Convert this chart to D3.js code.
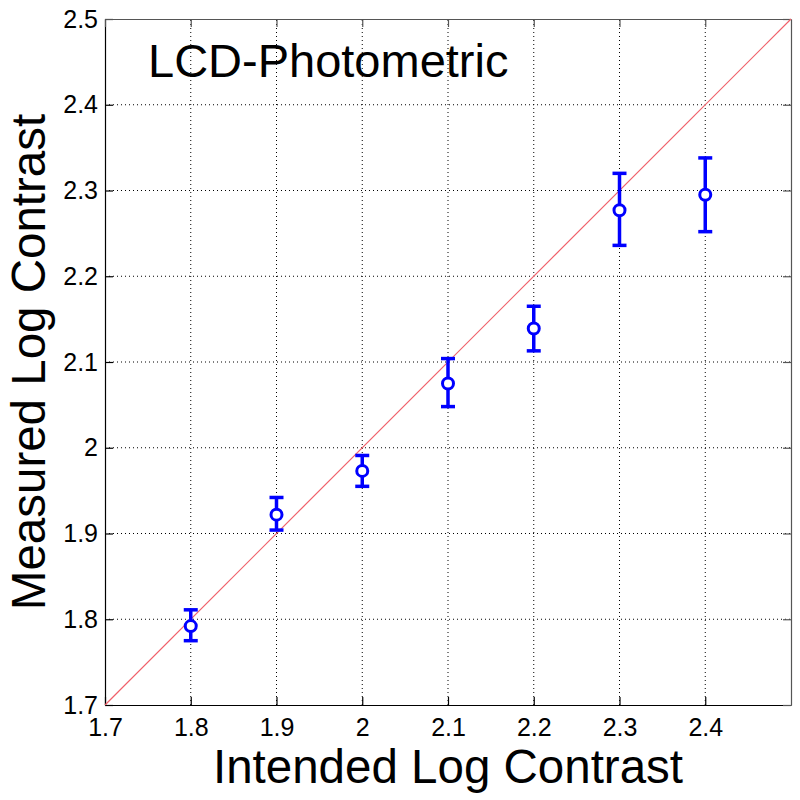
<!DOCTYPE html>
<html><head><meta charset="utf-8">
<script src="https://cdn.jsdelivr.net/npm/d3@7"></script>
<style>body{margin:0;background:#fff}svg{display:block}</style>
</head><body>
<script>
const xVals = [1.8, 1.9, 2.0, 2.1, 2.2, 2.3, 2.4];
const yMeans = [1.792, 1.922, 1.973, 2.075, 2.139, 2.277, 2.295];
const yLow = [1.775, 1.904, 1.955, 2.048, 2.113, 2.236, 2.252];
const yHigh = [1.811, 1.942, 1.991, 2.104, 2.165, 2.320, 2.338];
const xTicks = [1.7, 1.8, 1.9, 2.0, 2.1, 2.2, 2.3, 2.4];
const yTicks = [1.7, 1.8, 1.9, 2.0, 2.1, 2.2, 2.3, 2.4, 2.5];
const identity = [1.7, 2.5];

const W = 800, H = 800;
const m = {left: 105, right: 9, top: 19, bottom: 95};
const svg = d3.select("body").append("svg").attr("width", W).attr("height", H);
const x = d3.scaleLinear().domain([1.7, 2.5]).range([m.left, W - m.right]);
const y = d3.scaleLinear().domain([1.7, 2.5]).range([H - m.bottom, m.top]);
const fmt = d => String(+d.toFixed(1));
const font = "Arial, 'Liberation Sans', Helvetica, sans-serif";

// grid
const g = svg.append("g");
g.selectAll(".gx").data(xTicks.slice(1)).join("line")
  .attr("x1", d => x(d)).attr("x2", d => x(d)).attr("y1", y(1.7)).attr("y2", y(2.5))
  .attr("stroke", "#000").attr("stroke-width", 1).attr("stroke-dasharray", "1,3");
g.selectAll(".gy").data(yTicks.slice(1, -1)).join("line")
  .attr("y1", d => y(d)).attr("y2", d => y(d)).attr("x1", x(1.7)).attr("x2", x(2.5))
  .attr("stroke", "#000").attr("stroke-width", 1).attr("stroke-dasharray", "1,3");

// axes
const xAxis = d3.axisBottom(x).tickValues(xTicks).tickSizeInner(-8).tickSizeOuter(0).tickPadding(13).tickFormat(fmt);
const yAxis = d3.axisLeft(y).tickValues(yTicks).tickSizeInner(-8).tickSizeOuter(0).tickPadding(7).tickFormat(fmt);
const xa = svg.append("g").attr("transform", `translate(0,${y(1.7)})`).call(xAxis);
const ya = svg.append("g").attr("transform", `translate(${x(1.7)},0)`).call(yAxis);
// top / right mirror ticks
const xt = svg.append("g").attr("transform", `translate(0,${y(2.5)})`).call(d3.axisTop(x).tickValues(xTicks).tickSizeInner(-8).tickSizeOuter(0).tickFormat(""));
const yr = svg.append("g").attr("transform", `translate(${x(2.5)},0)`).call(d3.axisRight(y).tickValues(yTicks).tickSizeInner(-8).tickSizeOuter(0).tickFormat(""));
[xa, ya, xt, yr].forEach(a => {
  a.attr("font-size", 25).attr("font-family", font);
  a.selectAll("path").attr("stroke", "#000").attr("stroke-width", 1.2);
  a.selectAll("line").attr("stroke", "#000").attr("stroke-width", 1.2);
  a.selectAll("text").attr("font-family", font).attr("font-size", 25).attr("fill", "#000");
});
[xt, yr].forEach(a => a.selectAll("path, line").attr("stroke", "#555"));

// identity line
svg.append("line")
  .attr("x1", x(identity[0])).attr("y1", y(identity[0]))
  .attr("x2", x(identity[1])).attr("y2", y(identity[1]))
  .attr("stroke", "#f0606a").attr("stroke-width", 1.2);

// error bars
const data = xVals.map((v, i) => ({x: v, y: yMeans[i], lo: yLow[i], hi: yHigh[i]}));
const eb = svg.append("g").attr("stroke", "#0000ff").attr("stroke-width", 3.5);
eb.selectAll(".v").data(data).join("line")
  .attr("x1", d => x(d.x)).attr("x2", d => x(d.x)).attr("y1", d => y(d.lo)).attr("y2", d => y(d.hi));
eb.selectAll(".lo").data(data).join("line")
  .attr("x1", d => x(d.x) - 7).attr("x2", d => x(d.x) + 7).attr("y1", d => y(d.lo)).attr("y2", d => y(d.lo));
eb.selectAll(".hi").data(data).join("line")
  .attr("x1", d => x(d.x) - 7).attr("x2", d => x(d.x) + 7).attr("y1", d => y(d.hi)).attr("y2", d => y(d.hi));
svg.append("g").selectAll("circle").data(data).join("circle")
  .attr("cx", d => x(d.x)).attr("cy", d => y(d.y)).attr("r", 5.5)
  .attr("fill", "#fff").attr("stroke", "#0000ff").attr("stroke-width", 3);

// texts
svg.append("text").attr("x", 148).attr("y", 77).attr("font-family", font).attr("font-size", 47)
  .text("LCD-Photometric");
svg.append("text").attr("x", (m.left + W - m.right) / 2).attr("y", 783).attr("text-anchor", "middle")
  .attr("font-family", font).attr("font-size", 47.5).text("Intended Log Contrast");
svg.append("text").attr("transform", `translate(45,${(m.top + H - m.bottom) / 2}) rotate(-90)`)
  .attr("text-anchor", "middle").attr("font-family", font).attr("font-size", 47.5).text("Measured Log Contrast");
</script>
</body></html>
